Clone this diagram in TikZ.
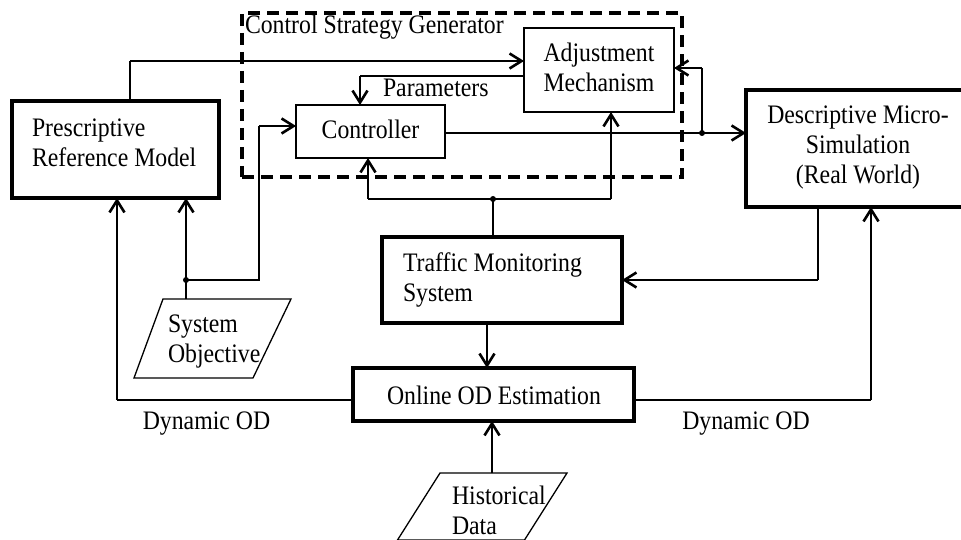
\documentclass[tikz,border=0pt]{standalone}
\usepackage{fontspec}
\setmainfont{Liberation Serif}[FakeStretch=0.89]
\usetikzlibrary{arrows.meta}
\begin{document}
\begin{tikzpicture}[x=1pt,y=-1pt,
  every node/.style={font=\fontsize{26.7}{30}\selectfont, inner sep=0pt, outer sep=0pt},
  box/.style={draw, inner sep=0pt, outer sep=0pt},
  thickbox/.style={box, line width=3.4pt},
  thinbox/.style={box, line width=1.3pt},
  thinl/.style={line width=1.3pt},
  thickl/.style={line width=2.8pt},
  arr/.style={-{Straight Barb[length=12pt,width=15pt,line width=2.6pt]}},
  jdot/.style={circle, fill=black, minimum size=6pt, inner sep=0pt}]
\useasboundingbox (0,0) rectangle (961,540);
\begin{scope}
\clip (0,0) rectangle (961,540);
% boxes
\node[thickbox, minimum width=207pt, minimum height=97pt] (pres) at (115.5,149.5) {};
\node[thinbox, minimum width=150pt, minimum height=84pt] (adj) at (599,70) {};
\node[thinbox, minimum width=149pt, minimum height=53pt] (ctrl) at (370.5,131.5) {};
\node[thickbox, minimum width=224pt, minimum height=117pt] (desc) at (858,148.5) {};
\node[thickbox, minimum width=240pt, minimum height=86pt] (tms) at (502,280) {};
\node[thickbox, minimum width=281pt, minimum height=53pt] (od) at (493.5,394.5) {};
\node[draw, line width=3.4pt, dash pattern=on 12pt off 7pt, minimum width=440pt, minimum height=164pt] (csg) at (462,95) {};
% parallelograms
\draw[thinl] (163,299) -- (291,299) -- (253,378) -- (134,378) -- cycle;
\draw[thinl] (440,473) -- (567,473) -- (524.5,540) -- (397.5,540) -- cycle;
% texts (multi-line nodes anchored at their last baseline)
\node[anchor=base west] (csgt) at (245,34) {Control Strategy Generator};
\node[anchor=base west] (part) at (383,97) {Parameters};
\node[anchor=base west, align=left] (prest) at (32,167) {Prescriptive\\Reference Model};
\node[anchor=base, align=center] (adjt) at (599,92) {Adjustment\\Mechanism};
\node[anchor=base] (ctrlt) at (370.5,139) {Controller};
\node[anchor=base, align=center] (desct) at (858,184) {Descriptive Micro-\\Simulation\\(Real World)};
\node[anchor=base west, align=left] (tmst) at (403,301) {Traffic Monitoring\\System};
\node[anchor=base] (odt) at (494,404) {Online OD Estimation};
\node[anchor=base west, align=left] (so) at (168,362) {System\\Objective};
\node[anchor=base west, align=left] (hist) at (452,534) {Historical\\Data};
\node[anchor=base] (dodl) at (206.5,429) {Dynamic OD};
\node[anchor=base] (dodr) at (746,429) {Dynamic OD};
% junction coordinates
\coordinate (tp) at (130,61);
\coordinate (pj) at (360,76);
\coordinate (dotc) at (702,133);
\coordinate (fb) at (702,68);
\coordinate (ci) at (259,126);
\coordinate (sj) at (186,280);
\coordinate (sotop) at (186,299);
\coordinate (mj) at (493,199);
\coordinate (ml) at (368,199);
\coordinate (mr) at (611,199);
\coordinate (dj) at (818,280);
\coordinate (tmx) at (487,323);
\coordinate (lo) at (117,400);
\coordinate (ro) at (871,400);
\coordinate (htop) at (492,473);
% connectors
\draw[thinl] (pres.north -| tp) -- (tp);
\draw[thickl,arr] (tp) -- (adj.west |- tp);
\draw[thinl] (adj.west |- pj) -- (pj);
\draw[thinl,arr] (pj) -- (ctrl.north -| pj);
\draw[thickl,arr] (ctrl.east |- dotc) -- (desc.west |- dotc);
\draw[thinl] (dotc) -- (fb);
\draw[thinl,arr] (fb) -- (adj.east |- fb);
\draw[thinl] (sj) -| (ci);
\draw[thickl,arr] (ci) -- (ctrl.west |- ci);
\draw[thickl,arr] (sotop) -- (pres.south -| sotop);
\draw[thinl] (tms.north -| mj) -- (mj);
\draw[thinl] (ml) -- (mr);
\draw[thickl,arr] (ml) -- (ctrl.south -| ml);
\draw[thickl,arr] (mr) -- (adj.south -| mr);
\draw[thinl] (desc.south -| dj) -- (dj);
\draw[thickl,arr] (dj) -- (tms.east |- dj);
\draw[thickl,arr] (tms.south -| tmx) -- (od.north -| tmx);
\draw[thinl] (od.west |- lo) -- (lo);
\draw[thickl,arr] (lo) -- (pres.south -| lo);
\draw[thinl] (od.east |- ro) -- (ro);
\draw[thickl,arr] (ro) -- (desc.south -| ro);
\draw[thickl,arr] (htop) -- (od.south -| htop);
\node[jdot] at (dotc) {};
\node[jdot] at (sj) {};
\node[jdot] at (mj) {};
\end{scope}
\end{tikzpicture}
\end{document}
